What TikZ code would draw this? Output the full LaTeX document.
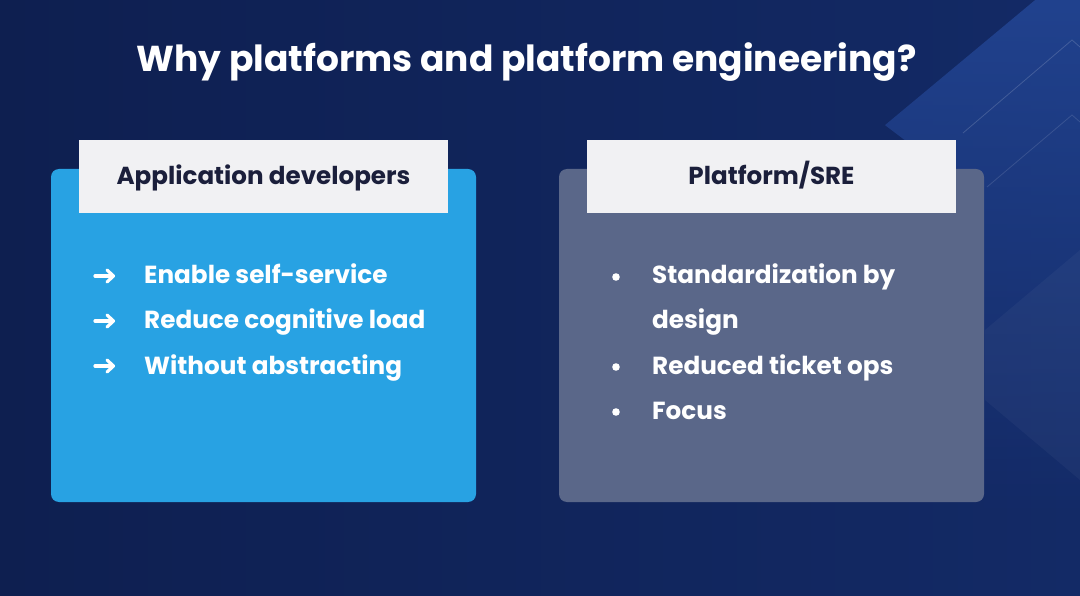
\documentclass[tikz,border=0pt]{standalone}
\usepackage{fontspec}
\usetikzlibrary{fadings}
\setmainfont{Poppins}
\definecolor{bgdark}{HTML}{0E1F50}
\definecolor{bgmid}{HTML}{132A66}
\definecolor{bglight}{HTML}{21428E}
\definecolor{bluebox}{HTML}{28A2E3}
\definecolor{graybox}{HTML}{5A6789}
\definecolor{headbg}{HTML}{F1F1F3}
\definecolor{headtxt}{HTML}{1B1F3B}
\tikzset{
  panel/.style={rounded corners=8pt, draw=none},
  headbox/.style={fill=headbg, draw=none, minimum width=369pt, minimum height=73pt, inner sep=0pt},
  headtext/.style={anchor=base, inner sep=0pt, font=\fontsize{24.6}{28}\selectfont\bfseries, text=headtxt},
  item/.style={anchor=base west, text=white, font=\fontsize{24.7}{28}\selectfont\bfseries, inner sep=0pt},
  arrowicon/.style={draw=white, line width=3.2pt, line cap=round, line join=round}
}
\begin{document}
\begin{tikzpicture}[x=1pt,y=-1pt]
\useasboundingbox (0,0) rectangle (1080,596);
% background
\shade[left color=bgdark, right color=bgmid] (0,0) rectangle (1080,596);
\fill[bglight, path fading=south] (885,125) -- (1035,0) -- (1080,0) -- (1080,520) -- (984,520) -- (984,200) -- cycle;
\draw[white, opacity=0.16, line width=0.8pt] (963,133) -- (1072,40) -- (1080,47);
\draw[white, opacity=0.12, line width=0.8pt] (987,187) -- (1072,115) -- (1080,122);
\fill[white, opacity=0.035] (985,330) -- (1080,250) -- (1080,480) -- (985,400) -- cycle;
% title
\node[text=white, anchor=base, font=\fontsize{36}{40}\selectfont\bfseries, inner sep=0pt] (title) at (526.5,72) {Why platforms and platform engineering?};
% panels
\fill[panel, fill=bluebox] (51,169) rectangle (476,502);
\fill[panel, fill=graybox] (559,169) rectangle (984,502);
\node[headbox] (h1) at (263.5,176.5) {};
\node[headbox] (h2) at (771.5,176.5) {};
\node[headtext] (h1t) at (263.5,185) {Application developers};
\node[headtext] (h2t) at (771.5,185) {Platform/SRE};
% left items
\node[item] (l1) at (144,284) {Enable self-service};
\node[item] (l2) at (144,329) {Reduce cognitive load};
\node[item] (l3) at (144,374) {Without abstracting};
\foreach \y in {276,321,366}{
  \draw[arrowicon] (95,\y) -- (112,\y);
  \draw[arrowicon] (107,\y-6) -- (113.5,\y) -- (107,\y+6);
}
% right items
\node[item] (r1) at (652,284) {Standardization by};
\node[item] (r1b) at (652,329) {design};
\node[item] (r2) at (652,374) {Reduced ticket ops};
\node[item] (r3) at (652,419) {Focus};
\fill[white] (616,277) circle (3.8pt);
\fill[white] (616,367) circle (3.8pt);
\fill[white] (616,412) circle (3.8pt);
\end{tikzpicture}
\end{document}
